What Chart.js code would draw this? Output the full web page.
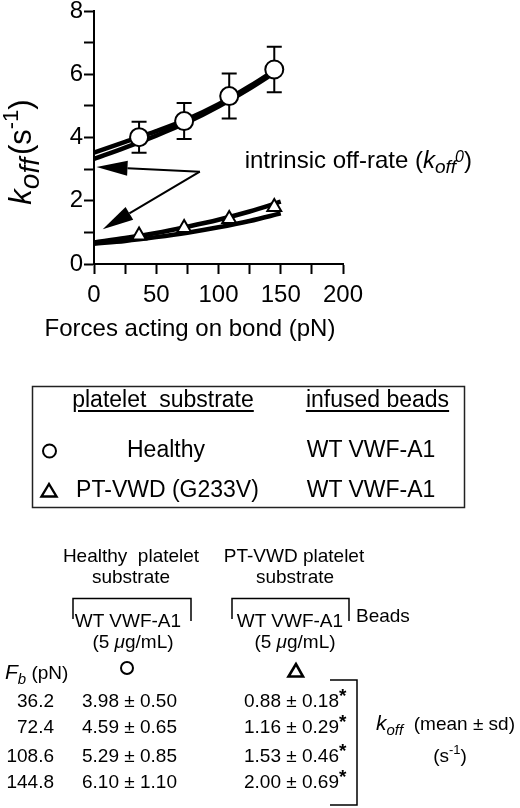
<!DOCTYPE html>
<html>
<head>
<meta charset="utf-8">
<script src="https://cdn.jsdelivr.net/npm/chart.js"></script>
<style>
body { margin: 0; background: #fff; }
#wrap { position: relative; width: 520px; height: 808px; overflow: hidden; font-family: "Liberation Sans", Arial, Helvetica, sans-serif; color: #000; }
#koffChart { position: absolute; left: 0; top: 0; }
#marks { position: absolute; left: 0; top: 0; }
.t { position: absolute; line-height: 1; white-space: pre; }
.c { width: 240px; text-align: center; }
.f23 { font-size: 23px; }
.f19 { font-size: 19px; }
.u { text-decoration: underline; text-decoration-thickness: 1.5px; text-underline-offset: 3px; }
.r { width: 54px; text-align: right; }
.sub { font-size: 15px; position: relative; top: 5px; }
.sup { font-size: 13px; position: relative; top: -8px; }
.star { font-weight: bold; position: relative; top: -5px; }
</style>
</head>
<body>
<div id="wrap">
  <canvas id="koffChart" width="520" height="350"></canvas>

  <svg id="marks" width="520" height="808">
    <g fill="none" stroke="#000">
      <rect x="32.5" y="386.5" width="432" height="121" stroke="#222" stroke-width="1.5"/>
      <circle cx="49.5" cy="451" r="6.5" stroke-width="2"/>
      <polygon points="49,484 41.5,496.5 56.5,496.5" stroke-width="2.4"/>
      <circle cx="127" cy="668" r="6" stroke-width="2"/>
      <polygon points="296,664 288.5,676.5 303,676.5" stroke-width="2.6"/>
      <polyline points="73,619 73,598.5 191,598.5 191,621" stroke-width="1.5"/>
      <polyline points="232,619 232,598.5 349,598.5 349,621" stroke-width="1.5"/>
      <polyline points="330,680 357,680 357,805 330,805" stroke-width="1.5"/>
    </g>
  </svg>

  <!-- legend box -->
  <div class="t c f23 u" style="left:43px;top:387.5px">platelet  substrate</div>
  <div class="t c f23 u" style="left:257.5px;top:387.5px">infused beads</div>
  <div class="t c f23" style="left:46px;top:437.5px">Healthy</div>
  <div class="t c f23" style="left:251px;top:437.5px">WT VWF-A1</div>
  <div class="t c f23" style="left:47.5px;top:477.5px">PT-VWD (G233V)</div>
  <div class="t c f23" style="left:251px;top:477.5px">WT VWF-A1</div>

  <!-- table -->
  <div class="t c f19" style="left:11px;top:546px">Healthy  platelet</div>
  <div class="t c f19" style="left:11px;top:567px">substrate</div>
  <div class="t c f19" style="left:174px;top:546px">PT-VWD platelet</div>
  <div class="t c f19" style="left:175px;top:567px">substrate</div>
  <div class="t c f19" style="left:8px;top:611px">WT VWF-A1</div>
  <div class="t c f19" style="left:170px;top:611px">WT VWF-A1</div>
  <div class="t c f19" style="left:13px;top:632px">(5 <i>μ</i>g/mL)</div>
  <div class="t c f19" style="left:175px;top:632px">(5 <i>μ</i>g/mL)</div>
  <div class="t f19" style="left:356px;top:606px">Beads</div>
  <div class="t f19" style="left:5px;top:661px"><i style="font-size:21px">F</i><span class="sub"><i>b</i></span> (pN)</div>
  <div id="rows"></div>
  <div class="t f19" style="left:376px;top:712px"><i style="font-size:21px">k</i><span class="sub"><i>off</i></span>  (mean ± sd)</div>
  <div class="t c f19" style="left:330px;top:746px">(s<span class="sup">-1</span>)</div>
</div>

<script>
// measured points (force on bond, pN)
var forces = [36.2, 72.4, 108.6, 144.8];
var healthyK = [4.01, 4.52, 5.31, 6.15];
var healthyErr = [0.49, 0.57, 0.71, 0.72];
var ptvwdK = [0.90, 1.14, 1.42, 1.80];

// fitted curves, two per substrate
var fitForces = [0, 25, 50, 75, 100, 125, 150];
var healthyFitA = [3.52, 3.86, 4.20, 4.58, 5.05, 5.62, 6.25];
var healthyFitB = [3.32, 3.68, 4.06, 4.48, 4.98, 5.55, 6.18];
var ptvwdFitA = [0.68, 0.82, 0.98, 1.18, 1.40, 1.66, 1.97];
var ptvwdFitB = [0.64, 0.73, 0.85, 0.99, 1.16, 1.36, 1.60];

var xTicks = [0, 50, 100, 150, 200];
var yTicks = [0, 2, 4, 6, 8];

// table values
var tableForce = ['36.2', '72.4', '108.6', '144.8'];
var tableHealthy = ['3.98 ± 0.50', '4.59 ± 0.65', '5.29 ± 0.85', '6.10 ± 1.10'];
var tablePtvwd = ['0.88 ± 0.18', '1.16 ± 0.29', '1.53 ± 0.46', '2.00 ± 0.69'];
var rowTops = [691, 717, 746, 772];

// arrows: from the label towards the two intercepts
var arrowStart = [85, 2.92];
var arrowTips = [[2, 3.07], [7, 1.1]];

var rows = '';
for (var i = 0; i < tableForce.length; i++) {
	rows += '<div class="t f19 r" style="left:0px;top:' + rowTops[i] + 'px">' + tableForce[i] + '</div>';
	rows += '<div class="t f19" style="left:82px;top:' + rowTops[i] + 'px">' + tableHealthy[i] + '</div>';
	rows += '<div class="t f19" style="left:244px;top:' + rowTops[i] + 'px">' + tablePtvwd[i] + '<span class="star">*</span></div>';
}
document.getElementById('rows').innerHTML = rows;

function pts(xs, ys) {
	return xs.map(function(x, i) { return {x: x, y: ys[i]}; });
}

function fitLine(xs, ys) {
	return {
		data: pts(xs, ys),
		borderColor: '#000',
		borderWidth: 4.5,
		pointRadius: 0,
		cubicInterpolationMode: 'monotone',
		fill: false,
		order: 2
	};
}

// draw text pieces one after another (sub/superscripts)
function drawRuns(ctx, x, y, runs) {
	runs.forEach(function(r) {
		ctx.font = r.font;
		ctx.fillText(r.t, x, y + (r.dy || 0));
		x += ctx.measureText(r.t).width + (r.gap || 0);
	});
}
function runsWidth(ctx, runs) {
	var w = 0;
	runs.forEach(function(r) {
		ctx.font = r.font;
		w += ctx.measureText(r.t).width + (r.gap || 0);
	});
	return w;
}

var FONT = '"Liberation Sans", Arial, sans-serif';

var errorBars = {
	id: 'errorBars',
	beforeDatasetsDraw: function(chart) {
		var ctx = chart.ctx, x = chart.scales.x, y = chart.scales.y;
		ctx.save();
		ctx.strokeStyle = '#000';
		ctx.lineWidth = 2;
		for (var i = 0; i < forces.length; i++) {
			var px = x.getPixelForValue(forces[i]);
			var top = y.getPixelForValue(healthyK[i] + healthyErr[i]);
			var bot = y.getPixelForValue(healthyK[i] - healthyErr[i]);
			ctx.beginPath();
			ctx.moveTo(px, top); ctx.lineTo(px, bot);
			ctx.moveTo(px - 7.5, top); ctx.lineTo(px + 7.5, top);
			ctx.moveTo(px - 7.5, bot); ctx.lineTo(px + 7.5, bot);
			ctx.stroke();
		}
		ctx.restore();
	}
};

var notes = {
	id: 'notes',
	afterDatasetsDraw: function(chart) {
		var ctx = chart.ctx, x = chart.scales.x, y = chart.scales.y;
		ctx.save();
		ctx.fillStyle = '#000';
		ctx.strokeStyle = '#000';
		var sx = x.getPixelForValue(arrowStart[0]), sy = y.getPixelForValue(arrowStart[1]);
		arrowTips.forEach(function(t) {
			var tx = x.getPixelForValue(t[0]), ty = y.getPixelForValue(t[1]);
			var ang = Math.atan2(ty - sy, tx - sx);
			var len = 31, half = 7.5;
			var bx = tx - Math.cos(ang) * len, by = ty - Math.sin(ang) * len;
			ctx.lineWidth = 2;
			ctx.beginPath(); ctx.moveTo(sx, sy); ctx.lineTo(bx, by); ctx.stroke();
			ctx.beginPath();
			ctx.moveTo(tx, ty);
			ctx.lineTo(bx + Math.sin(ang) * half, by - Math.cos(ang) * half);
			ctx.lineTo(bx - Math.sin(ang) * half, by + Math.cos(ang) * half);
			ctx.closePath(); ctx.fill();
		});

		// label for the arrows
		ctx.textAlign = 'left';
		ctx.textBaseline = 'alphabetic';
		drawRuns(ctx, x.getPixelForValue(121), y.getPixelForValue(3.04), [
			{t: 'intrinsic off-rate (', font: '24px ' + FONT},
			{t: 'k', font: 'italic 24px ' + FONT},
			{t: 'off', font: 'italic 19px ' + FONT, dy: 5, gap: -1},
			{t: '0', font: 'italic 16px ' + FONT, dy: -6},
			{t: ')', font: '24px ' + FONT}
		]);
		ctx.restore();
	},
	afterDraw: function(chart) {
		var ctx = chart.ctx;
		ctx.save();
		ctx.fillStyle = '#000';
		ctx.textBaseline = 'alphabetic';
		ctx.textAlign = 'center';
		ctx.font = '24px ' + FONT;
		ctx.fillText('Forces acting on bond (pN)', 190, 336);

		ctx.textAlign = 'left';
		var yRuns = [
			{t: 'k', font: 'italic 31px ' + FONT},
			{t: 'off', font: 'italic 28px ' + FONT, dy: 8, gap: 3},
			{t: '(s', font: '31px ' + FONT},
			{t: '-1', font: '22px ' + FONT, dy: -13},
			{t: ')', font: '31px ' + FONT}
		];
		ctx.translate(31, 152);
		ctx.rotate(-Math.PI / 2);
		drawRuns(ctx, -runsWidth(ctx, yRuns) / 2, 0, yRuns);
		ctx.restore();
	}
};

var ctx = document.getElementById('koffChart');
var chart = new Chart(ctx, {
	type: 'line',
	data: {
		datasets: [
			{
				data: pts(forces, healthyK),
				showLine: false,
				pointStyle: 'circle',
				pointRadius: 9,
				pointBorderWidth: 2,
				pointBackgroundColor: '#fff',
				pointBorderColor: '#000',
				order: 0
			},
			{
				data: pts(forces, ptvwdK),
				showLine: false,
				pointStyle: 'triangle',
				pointRadius: 8,
				pointBorderWidth: 2,
				pointBackgroundColor: '#fff',
				pointBorderColor: '#000',
				order: 0
			},
			fitLine(fitForces, healthyFitA),
			fitLine(fitForces, healthyFitB),
			fitLine(fitForces, ptvwdFitA),
			fitLine(fitForces, ptvwdFitB)
		]
	},
	options: {
		responsive: false,
		animation: false,
		events: [],
		layout: { padding: { left: 0, right: 177, top: 9, bottom: 0 } },
		plugins: { legend: { display: false }, tooltip: { enabled: false } },
		scales: {
			x: {
				type: 'linear', min: 0, max: 200,
				ticks: {
					stepSize: 25, autoSkip: false, maxRotation: 0, padding: 7,
					color: '#000', font: { size: 24, family: FONT },
					callback: function(v) { return xTicks.indexOf(v) >= 0 ? v : ''; }
				},
				grid: { drawOnChartArea: false, drawTicks: true, tickLength: 10, tickWidth: 2, tickColor: '#000' },
				border: { color: '#000', width: 2 },
				afterFit: function(s) { s.height = 86; }
			},
			y: {
				type: 'linear', min: 0, max: 8,
				ticks: {
					stepSize: 1, padding: 1,
					color: '#000', font: { size: 24, family: FONT, lineHeight: 0.8 },
					callback: function(v) { return yTicks.indexOf(v) >= 0 ? v : ''; }
				},
				grid: { drawOnChartArea: false, drawTicks: true, tickLength: 10, tickWidth: 2, tickColor: '#000' },
				border: { color: '#000', width: 2 },
				afterFit: function(s) { s.width = 94; }
			}
		}
	},
	plugins: [errorBars, notes]
});
</script>
</body>
</html>
